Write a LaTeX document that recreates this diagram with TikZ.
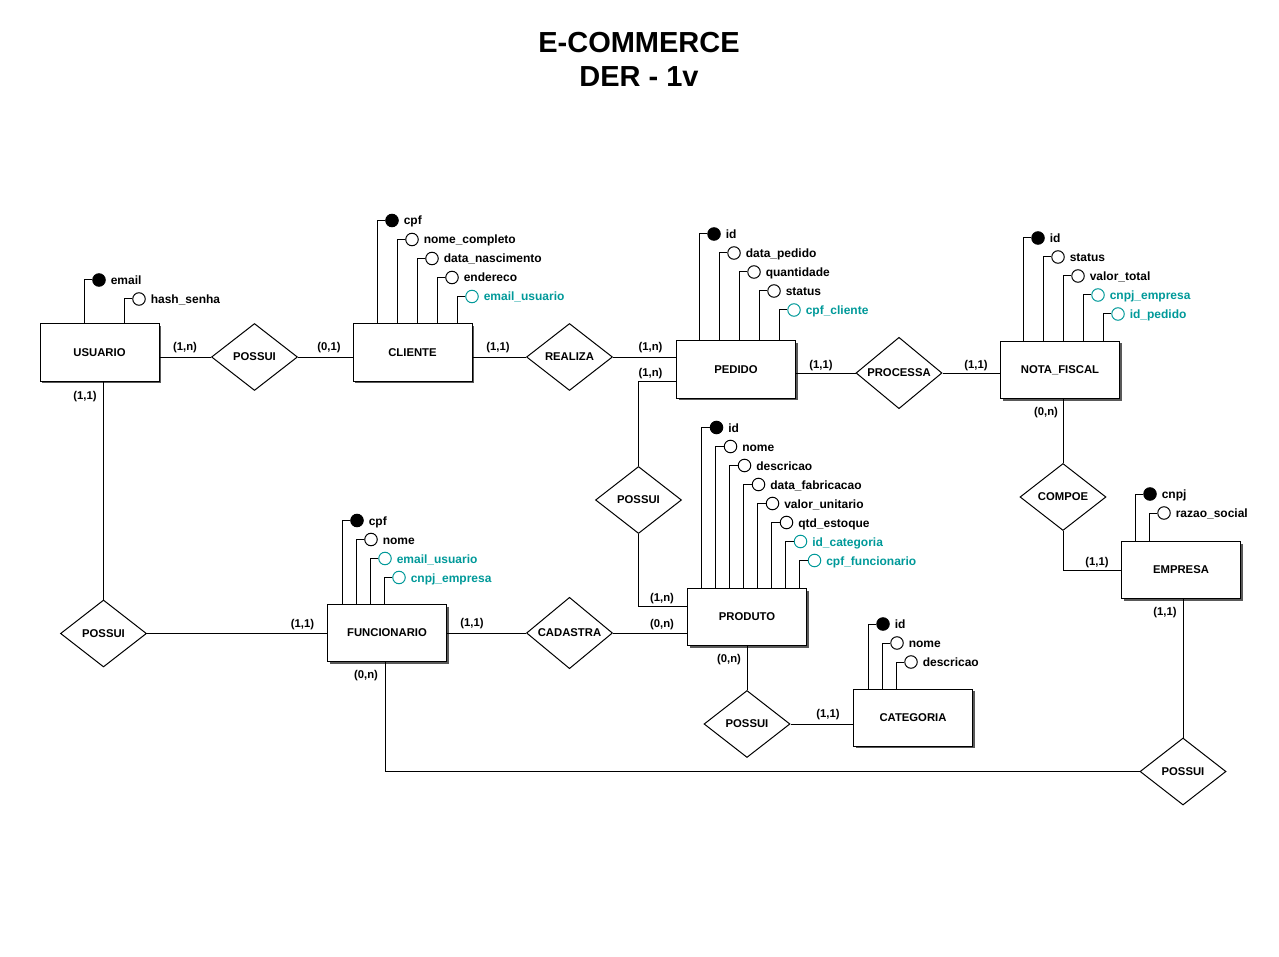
\documentclass[tikz,border=0pt]{standalone}
\usepackage{fontspec}
\setmainfont{Liberation Sans}
\usetikzlibrary{positioning, shapes.geometric, shadows}
\definecolor{cfk}{HTML}{009999}
\tikzset{
  every picture/.style={line width=1pt, x=1pt, y=-1pt},
  entity/.style={draw, fill=white, minimum width=119pt, minimum height=57pt, inner sep=0pt,
    font=\fontsize{11.3}{13}\selectfont\bfseries,
    drop shadow={shadow xshift=2pt, shadow yshift=-2pt, fill=black!65, opacity=1}},
  rel/.style={diamond, draw, fill=white, minimum width=86pt, minimum height=67pt, inner sep=0pt,
    font=\fontsize{11.3}{13}\selectfont\bfseries},
  card/.style={font=\fontsize{11.3}{13}\selectfont\bfseries, inner sep=0pt, text height=8pt, text depth=2pt},
  kcirc/.style={circle, draw, fill=black, minimum size=12.5pt, inner sep=0pt},
  acirc/.style={circle, draw, fill=white, minimum size=12.5pt, inner sep=0pt},
  fcirc/.style={circle, draw=cfk, fill=white, minimum size=12.5pt, inner sep=0pt},
  atxt/.style={font=\fontsize{12}{14}\selectfont\bfseries, inner sep=0pt, anchor=west, text height=9pt, text depth=0pt},
  ktxt/.style={atxt},
  ftxt/.style={atxt, text=cfk},
  title/.style={font=\fontsize{29}{35}\selectfont\bfseries},
}
\begin{document}
\begin{tikzpicture}
  \newcommand{\att}[6]{%
    \coordinate (#2-s) at (#3,0);
    \node[#5circ] (#2) at (#3+15,#4) {};
    \node[#5txt, right=4.5pt of #2] (#2-t) {#6};
    \draw (#2.west) -| (#1.north -| #2-s);}
  \useasboundingbox (0,0) rectangle (1279,957);

  \node[title] (ttl) at (639,42.5) {E-COMMERCE};
  \node[title] (ver) at (639,77) {DER - 1v};

  % ---- entities
  \node[entity] (usu) at (99.5,352.5) {USUARIO};
  \node[entity] (cli) at (412.5,352.5) {CLIENTE};
  \node[entity] (ped) at (736,369.5) {PEDIDO};
  \node[entity] (nf)  at (1060,370) {NOTA\_FISCAL};
  \node[entity] (emp) at (1181,570) {EMPRESA};
  \node[entity] (pro) at (747,617) {PRODUTO};
  \node[entity] (cat) at (913,717.5) {CATEGORIA};
  \node[entity] (fun) at (387,633) {FUNCIONARIO};

  % ---- relationships
  \node[rel] (pos1) at (254.5,357) {POSSUI};
  \node[rel] (rea)  at (569.5,357) {REALIZA};
  \node[rel] (prc)  at (899,373) {PROCESSA};
  \node[rel] (cmp)  at (1063,497) {COMPOE};
  \node[rel] (pos3) at (638.5,500) {POSSUI};
  \node[rel] (pos2) at (103.5,633.5) {POSSUI};
  \node[rel] (cad)  at (569.5,633) {CADASTRA};
  \node[rel] (pos4) at (747,724) {POSSUI};
  \node[rel] (pos5) at (1183,771.5) {POSSUI};

  % ---- attributes
  \att{usu}{usu1}{84}{280}{k}{email}
  \att{usu}{usu2}{124}{299}{a}{hash\_senha}

  \att{cli}{cli1}{377}{220.5}{k}{cpf}
  \att{cli}{cli2}{397}{239.5}{a}{nome\_completo}
  \att{cli}{cli3}{417}{258.5}{a}{data\_nascimento}
  \att{cli}{cli4}{437}{277.5}{a}{endereco}
  \att{cli}{cli5}{457}{296.5}{f}{email\_usuario}

  \att{ped}{ped1}{699}{234}{k}{id}
  \att{ped}{ped2}{719}{253}{a}{data\_pedido}
  \att{ped}{ped3}{739}{272}{a}{quantidade}
  \att{ped}{ped4}{759}{291}{a}{status}
  \att{ped}{ped5}{779}{310}{f}{cpf\_cliente}

  \att{nf}{nf1}{1023}{238}{k}{id}
  \att{nf}{nf2}{1043}{257}{a}{status}
  \att{nf}{nf3}{1063}{276}{a}{valor\_total}
  \att{nf}{nf4}{1083}{295}{f}{cnpj\_empresa}
  \att{nf}{nf5}{1103}{314}{f}{id\_pedido}

  \att{pro}{pro1}{701.5}{427.5}{k}{id}
  \att{pro}{pro2}{715.5}{446.5}{a}{nome}
  \att{pro}{pro3}{729.5}{465.5}{a}{descricao}
  \att{pro}{pro4}{743.5}{484.5}{a}{data\_fabricacao}
  \att{pro}{pro5}{757.5}{503.5}{a}{valor\_unitario}
  \att{pro}{pro6}{771.5}{522.5}{a}{qtd\_estoque}
  \att{pro}{pro7}{785.5}{541.5}{f}{id\_categoria}
  \att{pro}{pro8}{799.5}{560.5}{f}{cpf\_funcionario}

  \att{emp}{emp1}{1135}{494}{k}{cnpj}
  \att{emp}{emp2}{1149}{513}{a}{razao\_social}

  \att{cat}{cat1}{868}{624}{k}{id}
  \att{cat}{cat2}{882}{643}{a}{nome}
  \att{cat}{cat3}{896}{662}{a}{descricao}

  \att{fun}{fun1}{342}{520.5}{k}{cpf}
  \att{fun}{fun2}{356}{539.5}{a}{nome}
  \att{fun}{fun3}{370}{558.5}{f}{email\_usuario}
  \att{fun}{fun4}{384}{577.5}{f}{cnpj\_empresa}

  % ---- connectors
  \draw (usu.east |- pos1) -- (pos1.west);
  \draw (pos1.east) -- (pos1.east -| cli.west);
  \draw (cli.east |- rea) -- (rea.west);
  \draw (rea.east) -- (rea.east -| ped.west);
  \draw (ped.east |- prc) -- (prc.west);
  \draw (prc.east) -- (prc.east -| nf.west);
  \draw (cmp.north) -- (cmp.north |- nf.south);
  \draw (cmp.south) |- (emp.west);
  \draw (pos5.north) -- (pos5.north |- emp.south);
  \draw (pos5.west) -| ([xshift=-2pt]fun.south);
  \draw (pos2.north) -- (pos2.north |- usu.south);
  \draw (pos2.east) -- (pos2.east -| fun.west);
  \draw (fun.east |- cad) -- (cad.west);
  \draw (cad.east) -- (cad.east -| pro.west);
  \draw (pos3.north) |- ([yshift=-11.5pt]ped.west);
  \draw (pos3.south) |- ([yshift=11pt]pro.west);
  \draw (pos4.north) -- (pos4.north |- pro.south);
  \draw (pos4.east) -- (pos4.east -| cat.west);

  % ---- cardinalities
  \node[card] (k1)  at (185,348) {(1,n)};
  \node[card] (k2)  at (329,348) {(0,1)};
  \node[card] (k3)  at (498,348) {(1,1)};
  \node[card] (k4)  at (650.5,348) {(1,n)};
  \node[card] (k5)  at (650.5,373) {(1,n)};
  \node[card] (k6)  at (821,365) {(1,1)};
  \node[card] (k7)  at (976,365) {(1,1)};
  \node[card] (k8)  at (1046,412) {(0,n)};
  \node[card] (k9)  at (1097,562) {(1,1)};
  \node[card] (k10) at (1165,612) {(1,1)};
  \node[card] (k11) at (366,675) {(0,n)};
  \node[card] (k12) at (85,396) {(1,1)};
  \node[card] (k13) at (302.5,624.5) {(1,1)};
  \node[card] (k14) at (472,623) {(1,1)};
  \node[card] (k15) at (662,598) {(1,n)};
  \node[card] (k16) at (662,624) {(0,n)};
  \node[card] (k17) at (729,659) {(0,n)};
  \node[card] (k18) at (828,714) {(1,1)};
\end{tikzpicture}
\end{document}
